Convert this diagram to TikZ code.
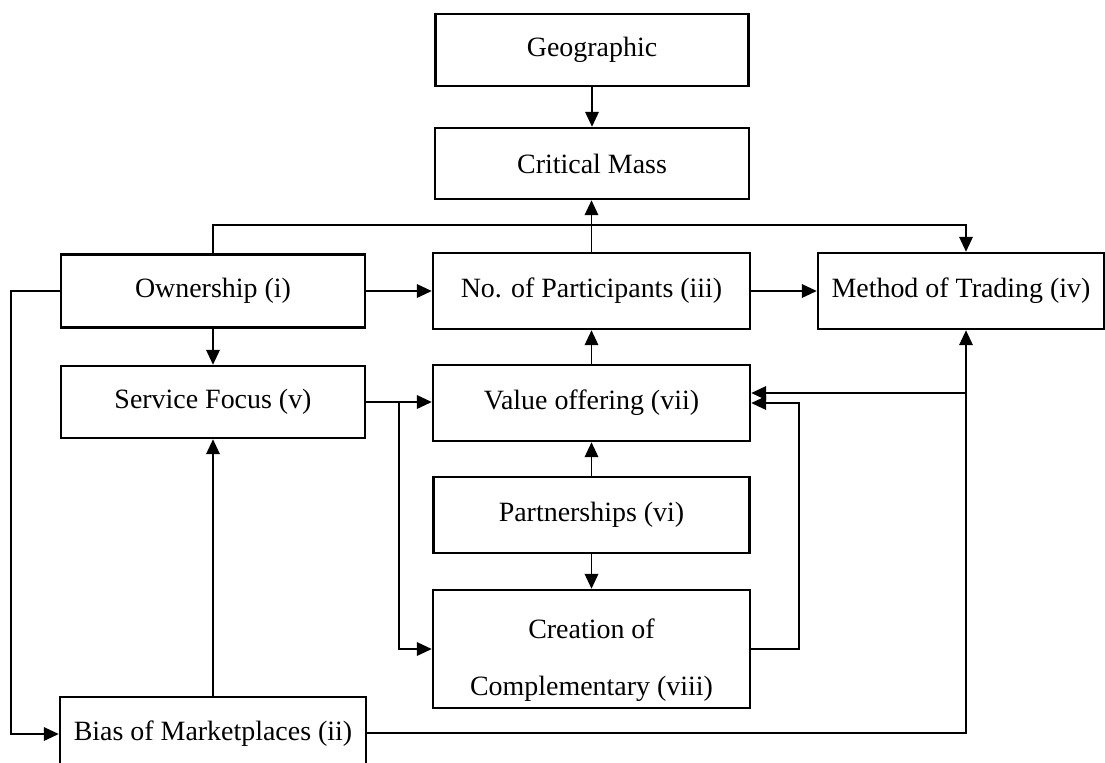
\documentclass[tikz,border=0pt]{standalone}
\usepackage{fontspec}
\setmainfont{Liberation Serif}
\usetikzlibrary{arrows.meta,positioning,calc}

\begin{document}
\begin{tikzpicture}[
		x=0.02cm, y=-0.02cm,
		>={Triangle[length=0.3cm,width=0.27cm]},
		block/.style={
			draw,
			line width=1.4pt,
			fill=white,
			inner sep=0pt,
			font=\fontsize{15.9}{19}\selectfont,
			minimum height=1.5cm
		},
		conn/.style={
			->,
			line width=1.1pt
		}
		]
		\useasboundingbox (0,0) rectangle (1105,762);
		% boxes
		\node[block,minimum width=6.26cm,minimum height=1.44cm] (geo) at (592,50) {Geographic};
		\node[block,minimum width=6.28cm,minimum height=1.42cm] (crit) at (592,163.5) {Critical Mass};
		\node[block,minimum width=6.08cm,minimum height=1.46cm] (own) at (213,291) {Ownership (i)};
		\node[block,minimum width=6.34cm,minimum height=1.52cm] (part) at (591.5,291) {No. of Participants (iii)};
		\node[block,minimum width=5.72cm,minimum height=1.52cm] (meth) at (961,291) {Method of Trading (iv)};
		\node[block,minimum width=6.08cm,minimum height=1.44cm] (serv) at (213,402) {Service Focus (v)};
		\node[block,minimum width=6.34cm,minimum height=1.52cm] (value) at (591.5,403) {Value offering (vii)};
		\node[block,minimum width=6.32cm,minimum height=1.52cm] (partn) at (591.5,515) {Partnerships (vi)};
		\node[block,minimum width=6.34cm,minimum height=2.36cm] (create) at (591.5,649) {};
		\node[align=center,inner sep=0pt,font=\fontsize{15.9}{32.4}\selectfont] (createtxt) at ([yshift=-0.22cm]create.center) {Creation of\\Complementary (viii)};
		\node[block,minimum width=6.12cm,minimum height=1.48cm] (bias) at (213,734) {Bias of Marketplaces (ii)};
		% bus points
		\coordinate (topbus) at (966,225);
		\coordinate (trunk) at (966,733);
		\coordinate (sbr) at (399,403);
		\coordinate (vin) at ([yshift=0.2cm]value.east);
		% connectors
		\draw[conn] (geo) -- (crit);
		\draw[conn] (part.north) -- (part.north |- crit.south);
		\draw[conn] (own.north) |- (topbus) -- (topbus |- meth.north);
		\draw[conn] (own) -- (part);
		\draw[conn] (part) -- (meth);
		\draw[conn] (own.west) -- ++(-49,0) |- (bias.west);
		\draw[conn] (own) -- (serv);
		\draw[conn] (bias) -- (serv);
		\draw[conn] (serv.east) -- (serv.east -| value.west);
		\draw[conn] (sbr) |- (create.west);
		\draw[conn] (value) -- (part);
		\draw[conn] (partn) -- (value);
		\draw[conn] (partn) -- (create);
		\draw[conn] (create.east) -- ++(48,0) |- (value.east);
		\draw[conn] (bias.east |- trunk) -- (trunk) -- (trunk |- meth.south);
		\draw[conn] (vin -| trunk) -- (vin);
		\end{tikzpicture}
\end{document}
